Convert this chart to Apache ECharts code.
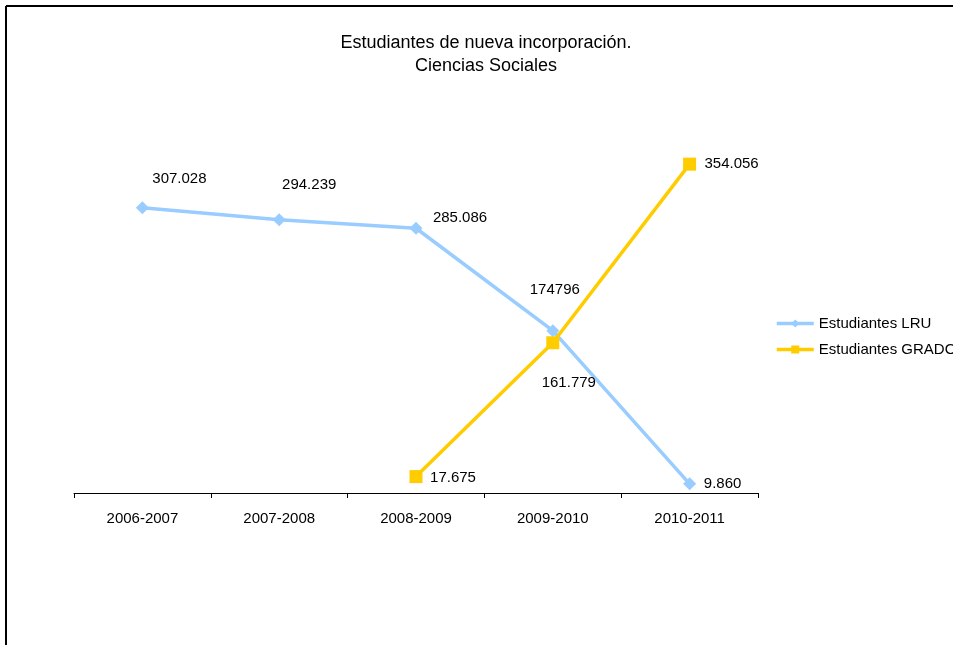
<!DOCTYPE html>
<html>
<head>
<meta charset="utf-8">
<script src="https://cdn.jsdelivr.net/npm/echarts@6/dist/echarts.min.js"></script>
<style>
  html, body { margin: 0; padding: 0; background: #fff; }
  #chart { width: 953px; height: 645px; }
</style>
</head>
<body>
<div id="chart"></div>
<script>
// datos
var cursos = ['2006-2007', '2007-2008', '2008-2009', '2009-2010', '2010-2011']
var lru = [307028, 294239, 285086, 174796, 9860]
var grado = [null, null, 17675, 161779, 354056]
var lruTxt = ['307.028', '294.239', '285.086', '174796', '9.860']
var gradoTxt = ['', '', '17.675', '161.779', '354.056']

// posicion de cada etiqueta (como en el original)
var lruPos = [[37, -29], [30, -35], [44, -10], [2, -41], [33, 0]]
var gradoPos = [null, null, [37, 1], [16, 40], [42, 0]]

var font = 'Liberation Sans, Arial, sans-serif'

function puntos(vals, txt, pos) {
    return vals.map(function (v, i) {
        if (v === null) return null
        return {
            value: v,
            label: {
                show: true,
                position: 'inside',
                offset: pos[i],
                formatter: txt[i],
                color: '#000',
                fontSize: 15,
                fontFamily: font
            }
        }
    })
}

var myChart = echarts.init(document.getElementById('chart'))
var option = {
    animation: false,
    backgroundColor: '#fff',
    title: {
        text: 'Estudiantes de nueva incorporación.\nCiencias Sociales',
        left: 481,
        textAlign: 'center',
        top: 27,
        textStyle: {
            fontSize: 18,
            fontWeight: 'normal',
            color: '#000',
            fontFamily: font,
            lineHeight: 23
        }
    },
    legend: {
        orient: 'vertical',
        left: 770,
        top: 311,
        itemWidth: 37,
        itemHeight: 10,
        itemGap: 11,
        lineStyle: { width: 3.5 },
        textStyle: { fontSize: 15, color: '#000', fontFamily: font },
        data: ['Estudiantes LRU', 'Estudiantes GRADO']
    },
    grid: { left: 74, right: 195, top: 121.5, bottom: 152 },
    xAxis: {
        type: 'category',
        data: cursos,
        boundaryGap: true,
        axisLine: { lineStyle: { color: '#000', width: 1 } },
        axisTick: { show: true, length: 5, inside: false, lineStyle: { color: '#000' } },
        axisLabel: { color: '#000', fontSize: 15, fontFamily: font, margin: 18 }
    },
    yAxis: {
        type: 'value',
        min: 0,
        max: 400000,
        show: false,
        splitLine: { show: false }
    },
    series: [
        {
            name: 'Estudiantes LRU',
            type: 'line',
            data: puntos(lru, lruTxt, lruPos),
            symbol: 'diamond',
            symbolSize: 13,
            lineStyle: { color: '#99ccff', width: 3.5 },
            itemStyle: { color: '#99ccff' },
            z: 2
        },
        {
            name: 'Estudiantes GRADO',
            type: 'line',
            data: puntos(grado, gradoTxt, gradoPos),
            symbol: 'rect',
            symbolSize: 13,
            lineStyle: { color: '#ffcc00', width: 3.5 },
            itemStyle: { color: '#ffcc00' },
            z: 3
        }
    ],
    graphic: [
        { type: 'line', shape: { x1: 6, y1: 6, x2: 953, y2: 6 }, style: { stroke: '#000', lineWidth: 2 } },
        { type: 'line', shape: { x1: 6, y1: 6, x2: 6, y2: 645 }, style: { stroke: '#000', lineWidth: 2 } }
    ]
}
myChart.setOption(option)
</script>
</body>
</html>
